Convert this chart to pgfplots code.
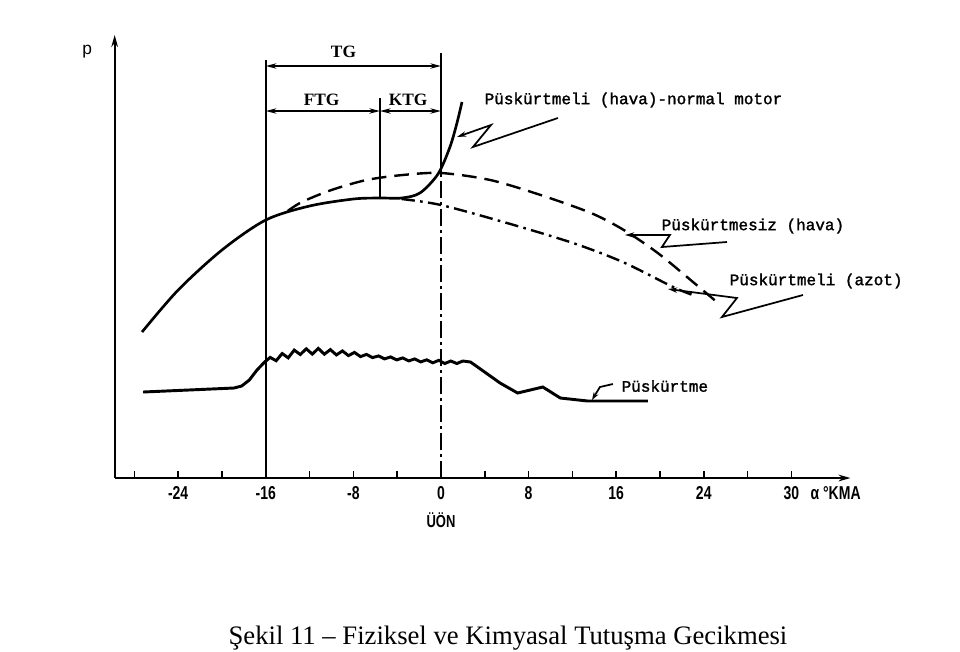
\documentclass[border=0pt]{standalone}
\usepackage{fontspec}
\setmainfont{Liberation Serif}
\newfontfamily\monofont[FakeBold=1.6]{Liberation Mono}
\newfontfamily\tickfont[FakeStretch=0.75]{Liberation Sans}
\newfontfamily\sansfont{Liberation Sans}
\usepackage{pgfplots}
\pgfplotsset{compat=1.18}
\usetikzlibrary{arrows.meta}
\begin{document}
\begin{tikzpicture}
\begin{axis}[
  x=8.2125pt, y=0.75pt,
  xmin=-29.8, xmax=37.4, ymin=0, ymax=443,
  axis lines=left,
  axis line style={line width=1.4pt, -{Stealth[length=9pt,width=5pt]}},
  xtick={-28,-24,...,32},
  xticklabels={,-24,,-16,,-8,,0,,8,,16,,24,,30},
  ytick=\empty,
  tick align=inside,
  major tick length=5pt,
  xtick style={line width=1.2pt, black},
  x tick label style={font=\tickfont\bfseries\fontsize{14}{14}\selectfont, yshift=-3pt},
  clip=false,
]
% main solid curve
\addplot[black, line width=2pt, smooth] coordinates {
(-27.3,146) (-24,188) (-20,228) (-16,258) (-12,272) (-8,279) (-5.6,280) (-3.6,280)
(-1.92,285) (-0.27,304) (0.82,331) (1.46,355) (1.92,376)};
% dashed (Puskurtmesiz hava)
\addplot[black, line width=1.8pt, smooth, dash pattern=on 11pt off 6pt] coordinates {
(-14,267) (-12.7,276) (-10,288) (-6.8,298) (-3.5,303) (0,305) (4.5,298) (9.1,283)
(13.7,265) (16.7,248) (19.8,225) (22.8,198) (25.3,175)};
% dash-dot (azot)
\addplot[black, line width=1.8pt, smooth, dash pattern=on 10pt off 4pt on 2pt off 4pt] coordinates {
(-3.6,279) (0,273) (6.03,255) (12.05,235) (16.6,216) (21.2,191) (23.0,183)};
% Puskurtme
\addplot[black, line width=2.2pt] coordinates {
(-27.2,86) (-18.9,90) (-18.2,92) (-17.5,98) (-16.8,108) (-16.1,116)
(-15.6,120.6) (-15.05,117.3) (-14.5,124.5) (-13.95,120.2) (-13.4,127.9) (-12.85,123.5)
(-12.3,129.2) (-11.75,123.9) (-11.2,129.6) (-10.65,123.8) (-10.1,128.4) (-9.55,123.1)
(-9.0,127.1) (-8.45,122.4) (-7.9,125.6) (-7.35,121.4) (-6.8,123.6) (-6.25,120.4)
(-5.7,122.1) (-5.15,119.1) (-4.6,121.1) (-4.05,118.1) (-3.5,120.1) (-2.95,117.1)
(-2.4,119.1) (-1.85,116.1) (-1.3,118.2) (-0.75,115.2) (-0.2,117.7) (0.35,114.5)
(0.9,117.0) (1.45,114.5) (2.0,117.0) (2.7,116)
(5.4,95) (7.0,85) (9.3,91) (10.9,80) (13.4,77) (18.9,77)};
% vertical lines
\draw[line width=1.2pt] (axis cs:-16,0) -- (axis cs:-16,418);
\draw[line width=1.2pt] (axis cs:0,305) -- (axis cs:0,425);
\draw[line width=1.2pt, dash pattern=on 13pt off 3pt on 2pt off 3pt] (axis cs:0,0) -- (axis cs:0,305);
\draw[line width=1.2pt] (axis cs:-5.57,280) -- (axis cs:-5.57,380);
% TG arrows
\draw[line width=1.2pt, {Stealth[length=8pt,width=4pt]}-{Stealth[length=8pt,width=4pt]}] (axis cs:-16,412) -- (axis cs:0,412);
\draw[line width=1.2pt, {Stealth[length=8pt,width=4pt]}-{Stealth[length=8pt,width=4pt]}] (axis cs:-16,367) -- (axis cs:-5.57,367);
\draw[line width=1.2pt, {Stealth[length=8pt,width=4pt]}-{Stealth[length=8pt,width=4pt]}] (axis cs:-5.57,367) -- (axis cs:0,367);
\node[font=\bfseries\fontsize{13}{13}\selectfont] at (axis cs:-8.9,426) {TG};
\node[font=\bfseries\fontsize{13}{13}\selectfont] at (axis cs:-10.9,378) {FTG};
\node[font=\bfseries\fontsize{13}{13}\selectfont] at (axis cs:-3.0,378) {KTG};
% annotation leaders
\draw[line width=1.3pt, -{Stealth[length=7pt,width=4pt]}] (axis cs:10.68,360) -- (axis cs:2.92,331) -- (axis cs:4.57,353) -- (axis cs:1.46,341);
\draw[line width=1.3pt, -{Stealth[length=7pt,width=4pt]}] (axis cs:26.12,236) -- (axis cs:20.18,231) -- (axis cs:20.91,243) -- (axis cs:16.8,243);
\draw[line width=1.3pt, -{Stealth[length=7pt,width=4pt]}] (axis cs:33.06,183) -- (axis cs:25.66,161) -- (axis cs:27.03,180) -- (axis cs:20.73,189);
\draw[line width=1.3pt, -{Stealth[length=6pt,width=4pt]}] (axis cs:15.7,94) -- (axis cs:14.52,91) -- (axis cs:13.79,78);
% annotation texts
\node[anchor=west, font=\monofont\fontsize{12}{12}\selectfont] at (axis cs:3.56,378) {Püskürtmeli (hava)-normal motor};
\node[anchor=west, font=\monofont\fontsize{12}{12}\selectfont] at (axis cs:19.73,252) {Püskürtmesiz (hava)};
\node[anchor=west, font=\monofont\fontsize{12}{12}\selectfont] at (axis cs:25.94,197) {Püskürtmeli (azot)};
\node[anchor=west, font=\monofont\fontsize{12}{12}\selectfont] at (axis cs:16.07,92) {Püskürtme};
% axis labels
\node[font=\sansfont\fontsize{13}{13}\selectfont] at (axis cs:-32.3,426) {p};
\node[font=\tickfont\bfseries\fontsize{13}{13}\selectfont] at (axis cs:0,-42) {ÜÖN};
\node[anchor=west, font=\tickfont\bfseries\fontsize{14}{14}\selectfont] at (axis cs:33.33,-15) {α °KMA};
% caption
\node[font=\fontsize{20}{20}\selectfont] at (axis cs:6.12,-160) {Şekil 11 – Fiziksel ve Kimyasal Tutuşma Gecikmesi};
\coordinate (bl) at (axis cs:-40.27,-173);
\coordinate (tr) at (axis cs:47.4,478);
\end{axis}
\pgfresetboundingbox
\useasboundingbox (bl) rectangle (tr);
\end{tikzpicture}
\end{document}
